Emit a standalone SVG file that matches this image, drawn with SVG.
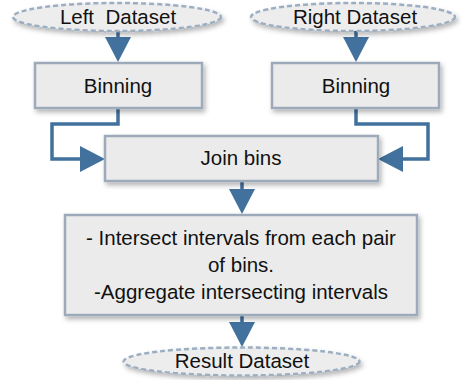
<svg xmlns="http://www.w3.org/2000/svg" width="462" height="380" viewBox="0 0 462 380">
<defs>
<filter id="sh" x="-10%" y="-20%" width="125%" height="150%">
<feDropShadow dx="2" dy="3" stdDeviation="2.5" flood-color="#000" flood-opacity="0.3"/>
</filter>
<marker id="ah" viewBox="0 0 25 26" refX="1" refY="13" markerWidth="25" markerHeight="26" markerUnits="userSpaceOnUse" orient="auto">
<path d="M0,0 L25,13 L0,26 z" fill="#41719C"/>
</marker>
<style>
.box{fill:#EBEBEB;stroke:#9CAABA;stroke-width:2.5;filter:url(#sh)}
.ell{fill:#EDEDED;stroke:#9CAEC2;stroke-width:2.5;stroke-dasharray:5 3;filter:url(#sh)}
.t{font-family:"Liberation Sans",Arial,sans-serif;font-size:20.5px;fill:#111;text-anchor:middle}
.c{fill:none;stroke:#41719C;stroke-width:3.5;marker-end:url(#ah)}
</style>
</defs>
<g id="connectors">
<path class="c" d="M118,31 V38"/>
<path class="c" d="M356,31 V38"/>
<path class="c" d="M118,108 V124 H52 V159 H81"/>
<path class="c" d="M356,108 V124 H428 V159 H402"/>
<path class="c" d="M242,181 V190"/>
<path class="c" d="M242,315 V323"/>
</g>
<g id="left-dataset">
<ellipse class="ell" cx="117" cy="17" rx="104" ry="14"/>
<text class="t" x="118" y="24" style="white-space:pre">Left  Dataset</text>
</g>
<g id="right-dataset">
<ellipse class="ell" cx="353" cy="17" rx="102" ry="14"/>
<text class="t" x="355" y="24">Right Dataset</text>
</g>
<g id="binning-left">
<rect class="box" x="35" y="63" width="167" height="45"/>
<text class="t" x="118" y="93">Binning</text>
</g>
<g id="binning-right">
<rect class="box" x="272" y="63" width="167" height="45"/>
<text class="t" x="356" y="93">Binning</text>
</g>
<g id="join-bins">
<rect class="box" x="105" y="136" width="273" height="45"/>
<text class="t" x="241" y="165">Join bins</text>
</g>
<g id="intersect">
<rect class="box" x="65" y="215" width="352" height="100"/>
<text class="t" x="241" y="245">- Intersect intervals from each pair</text>
<text class="t" x="241" y="272">of bins.</text>
<text class="t" x="241" y="299">-Aggregate intersecting intervals</text>
</g>
<g id="result-dataset">
<ellipse class="ell" cx="241.5" cy="361.5" rx="118" ry="14"/>
<text class="t" x="242" y="368">Result Dataset</text>
</g>
</svg>
